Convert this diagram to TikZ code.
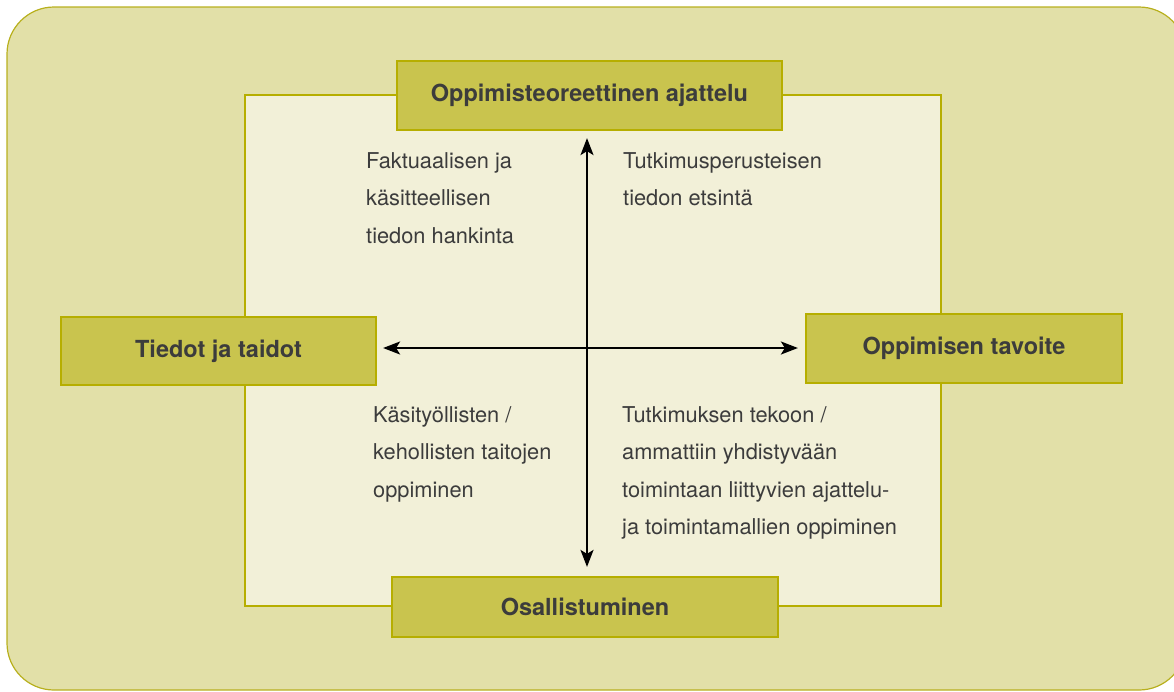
\documentclass[tikz,border=0pt]{standalone}
\usepackage{fontspec}
\setmainfont{TeX Gyre Heros}
\usetikzlibrary{arrows.meta}
\definecolor{outerfill}{RGB}{226,224,168}
\definecolor{outerline}{RGB}{184,176,30}
\definecolor{innerfill}{RGB}{242,240,216}
\definecolor{boxfill}{RGB}{201,196,78}
\definecolor{boxline}{RGB}{182,174,0}
\definecolor{txt}{RGB}{60,60,60}
\tikzset{
  label box/.style={draw=boxline, fill=boxfill, line width=2.2pt, text=txt,
    font=\fontsize{23.5}{28}\selectfont\bfseries, inner sep=0pt},
  body/.style={anchor=base west, align=left, inner sep=0pt, text=txt,
    font=\fontsize{21.8}{37.5}\selectfont},
  axis/.style={line width=2pt, {Stealth[length=17pt,width=13pt,inset=4pt]}-{Stealth[length=17pt,width=13pt,inset=4pt]}}
}
\begin{document}
\begin{tikzpicture}[x=1pt,y=-1pt]
\useasboundingbox (0,0) rectangle (1174,691);
\begin{scope}
\clip (0,0) rectangle (1174,691);
\draw[fill=outerfill, draw=outerline, line width=1.2pt, rounded corners=47pt] (7,7) rectangle (1186,690);
\end{scope}
\draw[fill=innerfill, draw=boxline, line width=2.2pt] (245,95) rectangle (941,606);

\node[label box, minimum width=385pt, minimum height=69pt] (top) at (589.5,95.5) {Oppimisteoreettinen ajattelu};
\node[label box, minimum width=315pt, minimum height=68pt] (left) at (218.5,351) {Tiedot ja taidot};
\node[label box, minimum width=316pt, minimum height=69pt] (right) at (964,348.5) {Oppimisen tavoite};
\node[label box, minimum width=386pt, minimum height=60pt] (bot) at (585,607) {Osallistuminen};

\coordinate (c) at (587,348);
\draw[axis, shorten <=7pt, shorten >=9pt] (c |- top.south) -- (c |- bot.north);
\draw[axis, shorten <=6pt, shorten >=7pt] (c -| left.east) -- (c -| right.west);

% anchor base = baseline of the last line
\node[body] (tl) at (366,243) {Faktuaalisen ja\\käsitteellisen\\tiedon hankinta};
\node[body] (tr) at (623,205.5) {Tutkimusperusteisen\\tiedon etsintä};
\node[body] (bl) at (373,497) {Käsityöllisten /\\kehollisten taitojen\\oppiminen};
\node[body] (br) at (622,534.5) {Tutkimuksen tekoon /\\ammattiin yhdistyvään\\toimintaan liittyvien ajattelu-\\ja toimintamallien oppiminen};
\end{tikzpicture}
\end{document}
